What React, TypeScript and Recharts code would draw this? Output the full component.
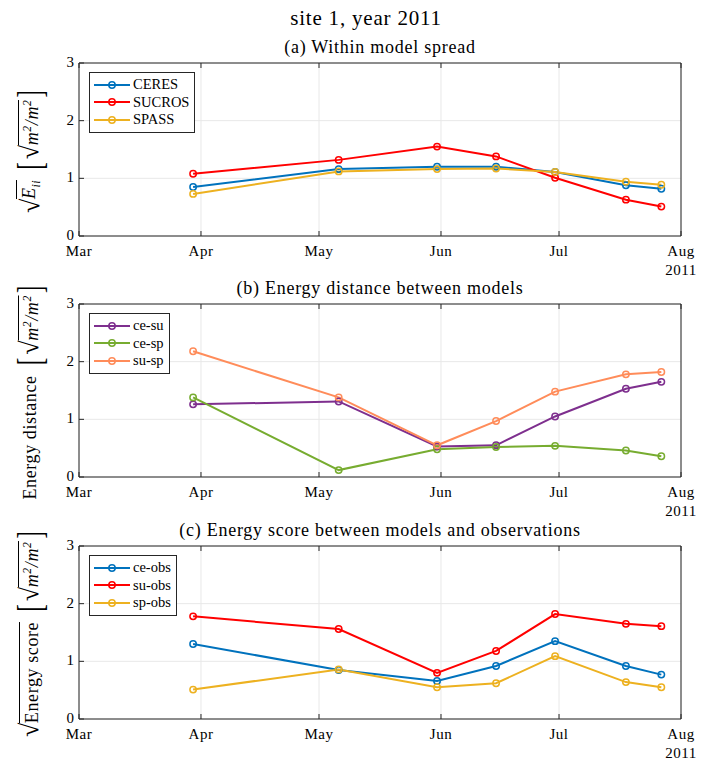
import React from "react";
import {
  LineChart,
  Line,
  XAxis,
  YAxis,
  CartesianGrid,
  Legend,
} from "recharts";

// sampling dates (same for every panel)
const dates = [
  "2011-03-30",
  "2011-05-06",
  "2011-05-31",
  "2011-06-15",
  "2011-06-30",
  "2011-07-18",
  "2011-07-27",
];

const monthTicks = [
  "2011-03-01",
  "2011-04-01",
  "2011-05-01",
  "2011-06-01",
  "2011-07-01",
  "2011-08-01",
];
const monthLabels = ["Mar", "Apr", "May", "Jun", "Jul", "Aug"];
const yTicks = [0, 1, 2, 3];

// (a) within model spread
const ceres = [0.85, 1.16, 1.2, 1.2, 1.11, 0.88, 0.82];
const sucros = [1.08, 1.32, 1.55, 1.38, 1.01, 0.63, 0.51];
const spass = [0.73, 1.12, 1.16, 1.17, 1.11, 0.94, 0.89];

// (b) energy distance between models
const ceSu = [1.26, 1.31, 0.53, 0.55, 1.05, 1.53, 1.65];
const ceSp = [1.38, 0.12, 0.48, 0.52, 0.54, 0.46, 0.36];
const suSp = [2.18, 1.38, 0.55, 0.97, 1.48, 1.78, 1.82];

// (c) energy score vs observations
const ceObs = [1.3, 0.85, 0.66, 0.92, 1.35, 0.92, 0.77];
const suObs = [1.78, 1.56, 0.8, 1.18, 1.82, 1.65, 1.61];
const spObs = [0.51, 0.86, 0.55, 0.62, 1.09, 0.64, 0.55];

const FONT = '"Liberation Serif", "Times New Roman", serif';
const AXIS = "#262626";
const GRID = "#e8e8e8";

const tickTimes = monthTicks.map((d) => Date.parse(d));

type Series = { key: string; name: string; color: string; values: number[] };

function buildRows(series: Series[]) {
  return dates.map((d, i) => {
    const row: Record<string, number> = { t: Date.parse(d) };
    series.forEach((s) => {
      row[s.key] = s.values[i];
    });
    return row;
  });
}

const BottomTick = (props: any) => {
  const { x, y, payload } = props;
  const idx = tickTimes.indexOf(payload.value);
  return (
    <g>
      <line x1={x} y1={y} x2={x} y2={y - 5} stroke={AXIS} />
      <text
        x={x}
        y={y + 20}
        textAnchor="middle"
        fontFamily={FONT}
        fontSize={15}
        letterSpacing={0.5}
        fill="#000"
      >
        {monthLabels[idx]}
      </text>
    </g>
  );
};

const TopTick = (props: any) => {
  const { x, y } = props;
  return <line x1={x} y1={y} x2={x} y2={y + 5} stroke={AXIS} />;
};

const LeftTick = (props: any) => {
  const { x, y, payload } = props;
  return (
    <g>
      <line x1={x} y1={y} x2={x + 5} y2={y} stroke={AXIS} />
      <text
        x={x - 5}
        y={y + 4}
        textAnchor="end"
        fontFamily={FONT}
        fontSize={15}
        fill="#000"
      >
        {payload.value}
      </text>
    </g>
  );
};

const RightTick = (props: any) => {
  const { x, y } = props;
  return <line x1={x} y1={y} x2={x - 5} y2={y} stroke={AXIS} />;
};

const Sqrt = ({ children }: { children: React.ReactNode }) => (
  <span style={{ display: "inline-flex", alignItems: "flex-end" }}>
    <span style={{ fontSize: "1.45em", lineHeight: 1, marginRight: -1 }}>√</span>
    <span style={{ borderTop: "1px solid #000", paddingTop: 3, lineHeight: 1.1 }}>
      {children}
    </span>
  </span>
);

const Unit = () => (
  <span style={{ display: "inline-flex", alignItems: "center", marginLeft: 8 }}>
    <span style={{ fontSize: 36, lineHeight: 1, transform: "scaleX(0.6)" }}>[</span>
    <Sqrt>
      <i>
        m<sup style={{ fontSize: "0.65em" }}>2</sup>/m
        <sup style={{ fontSize: "0.65em" }}>2</sup>
      </i>
    </Sqrt>
    <span style={{ fontSize: 36, lineHeight: 1, transform: "scaleX(0.6)" }}>]</span>
  </span>
);

function makeLegend(series: Series[]) {
  return (props: any) => {
    const payload: any[] = props.payload || [];
    const items = series.map((s) => {
      const p = payload.find((q) => q.value === s.name);
      return { name: s.name, color: p ? p.color : s.color };
    });
    return (
      <div
        style={{
          border: `1px solid ${AXIS}`,
          background: "#fff",
          padding: "3px 5px 3px 3px",
          fontFamily: FONT,
        }}
      >
        {items.map((it) => (
          <div
            key={it.name}
            style={{ display: "flex", alignItems: "center", height: 17.5 }}
          >
            <svg width={38} height={12}>
              <line x1={1} x2={37} y1={6} y2={6} stroke={it.color} strokeWidth={2} />
              <circle cx={19} cy={6} r={3.2} fill="none" stroke={it.color} strokeWidth={1.5} />
            </svg>
            <span style={{ marginLeft: 2, fontSize: 14.5, color: "#000" }}>{it.name}</span>
          </div>
        ))}
      </div>
    );
  };
}

const PLOT_TOP = 63;
const PLOT_BOTTOM = 236;
const PLOT_LEFT = 79;
const PLOT_RIGHT = 681;
const CH_W = 709;
const CH_H = 290;
const AX = 1; // thickness given to each axis band

function Panel({
  top,
  title,
  ylabel,
  series,
}: {
  top: number;
  title: string;
  ylabel: React.ReactNode;
  series: Series[];
}) {
  const data = buildRows(series);
  return (
    <div style={{ position: "absolute", left: 0, top, width: CH_W, height: CH_H }}>
      <LineChart
        width={CH_W}
        height={CH_H}
        data={data}
        margin={{
          top: PLOT_TOP - AX,
          right: CH_W - PLOT_RIGHT - AX,
          bottom: CH_H - PLOT_BOTTOM - AX,
          left: PLOT_LEFT - AX,
        }}
      >
        <CartesianGrid stroke={GRID} strokeWidth={1} />
        <XAxis
          dataKey="t"
          type="number"
          domain={[tickTimes[0], tickTimes[tickTimes.length - 1]]}
          ticks={tickTimes}
          interval={0}
          height={AX}
          tickSize={0}
          tickMargin={0}
          tickLine={false}
          axisLine={{ stroke: AXIS }}
          tick={(p: any) => <BottomTick {...p} />}
        />
        <XAxis
          xAxisId="top"
          orientation="top"
          dataKey="t"
          type="number"
          domain={[tickTimes[0], tickTimes[tickTimes.length - 1]]}
          ticks={tickTimes}
          interval={0}
          height={AX}
          tickSize={0}
          tickMargin={0}
          tickLine={false}
          axisLine={{ stroke: AXIS }}
          tick={(p: any) => <TopTick {...p} />}
        />
        <YAxis
          type="number"
          domain={[0, 3]}
          ticks={yTicks}
          interval={0}
          width={AX}
          tickSize={0}
          tickMargin={0}
          tickLine={false}
          axisLine={{ stroke: AXIS }}
          tick={(p: any) => <LeftTick {...p} />}
        />
        <YAxis
          yAxisId="right"
          orientation="right"
          type="number"
          domain={[0, 3]}
          ticks={yTicks}
          interval={0}
          width={AX}
          tickSize={0}
          tickMargin={0}
          tickLine={false}
          axisLine={{ stroke: AXIS }}
          tick={(p: any) => <RightTick {...p} />}
        />
        {series.map((s) => (
          <Line
            key={s.key}
            type="linear"
            dataKey={s.key}
            name={s.name}
            stroke={s.color}
            strokeWidth={2}
            dot={{ r: 3.2, strokeWidth: 1.5, fill: "none", stroke: s.color }}
            activeDot={false}
            isAnimationActive={false}
          />
        ))}
        <Legend
          layout="horizontal"
          verticalAlign="middle"
          align="center"
          content={makeLegend(series)}
          wrapperStyle={{
            position: "absolute",
            left: PLOT_LEFT + 10,
            top: PLOT_TOP + 9,
            width: "auto",
          }}
        />
      </LineChart>

      {/* subplot title */}
      <div
        style={{
          position: "absolute",
          left: PLOT_LEFT,
          width: PLOT_RIGHT - PLOT_LEFT,
          top: 37,
          lineHeight: "20px",
          textAlign: "center",
          fontSize: 18,
          letterSpacing: 0.75,
          fontFamily: FONT,
        }}
      >
        {title}
      </div>

      {/* y label */}
      <div
        style={{
          position: "absolute",
          left: 30,
          top: (PLOT_TOP + PLOT_BOTTOM) / 2,
          transform: "translate(-50%, -50%) rotate(-90deg)",
          whiteSpace: "nowrap",
          fontFamily: FONT,
          fontSize: 18,
          letterSpacing: 0.6,
          display: "flex",
          alignItems: "center",
        }}
      >
        {ylabel}
      </div>

      {/* year under the last month */}
      <div
        style={{
          position: "absolute",
          left: PLOT_RIGHT,
          top: 261,
          transform: "translateX(-50%)",
          lineHeight: "18px",
          fontSize: 15,
          letterSpacing: 0.5,
          fontFamily: FONT,
        }}
      >
        2011
      </div>
    </div>
  );
}

const seriesA: Series[] = [
  { key: "ceres", name: "CERES", color: "#0072BD", values: ceres },
  { key: "sucros", name: "SUCROS", color: "#FF0000", values: sucros },
  { key: "spass", name: "SPASS", color: "#EDB120", values: spass },
];
const seriesB: Series[] = [
  { key: "ceSu", name: "ce-su", color: "#7E2F8E", values: ceSu },
  { key: "ceSp", name: "ce-sp", color: "#77AC30", values: ceSp },
  { key: "suSp", name: "su-sp", color: "#FF8C5A", values: suSp },
];
const seriesC: Series[] = [
  { key: "ceObs", name: "ce-obs", color: "#0072BD", values: ceObs },
  { key: "suObs", name: "su-obs", color: "#FF0000", values: suObs },
  { key: "spObs", name: "sp-obs", color: "#EDB120", values: spObs },
];

export default function App() {
  return (
    <div
      style={{
        position: "absolute",
        left: 0,
        top: 0,
        width: 709,
        height: 760,
        overflow: "hidden",
        background: "#fff",
        fontFamily: FONT,
        color: "#000",
      }}
    >
      <div
        style={{
          position: "absolute",
          left: 366,
          top: 6,
          transform: "translateX(-50%)",
          whiteSpace: "nowrap",
          fontSize: 21,
          letterSpacing: 0.8,
          lineHeight: "24px",
        }}
      >
        site 1, year 2011
      </div>
      <Panel
        top={0}
        title="(a) Within model spread"
        series={seriesA}
        ylabel={
          <>
            <Sqrt>
              <i>
                E<sub style={{ fontSize: "0.65em" }}>ii</sub>
              </i>
            </Sqrt>
            <Unit />
          </>
        }
      />
      <Panel
        top={241}
        title="(b) Energy distance between models"
        series={seriesB}
        ylabel={
          <>
            <span>Energy distance</span>
            <Unit />
          </>
        }
      />
      <Panel
        top={483}
        title="(c) Energy score between models and observations"
        series={seriesC}
        ylabel={
          <>
            <Sqrt>Energy score</Sqrt>
            <Unit />
          </>
        }
      />
    </div>
  );
}
